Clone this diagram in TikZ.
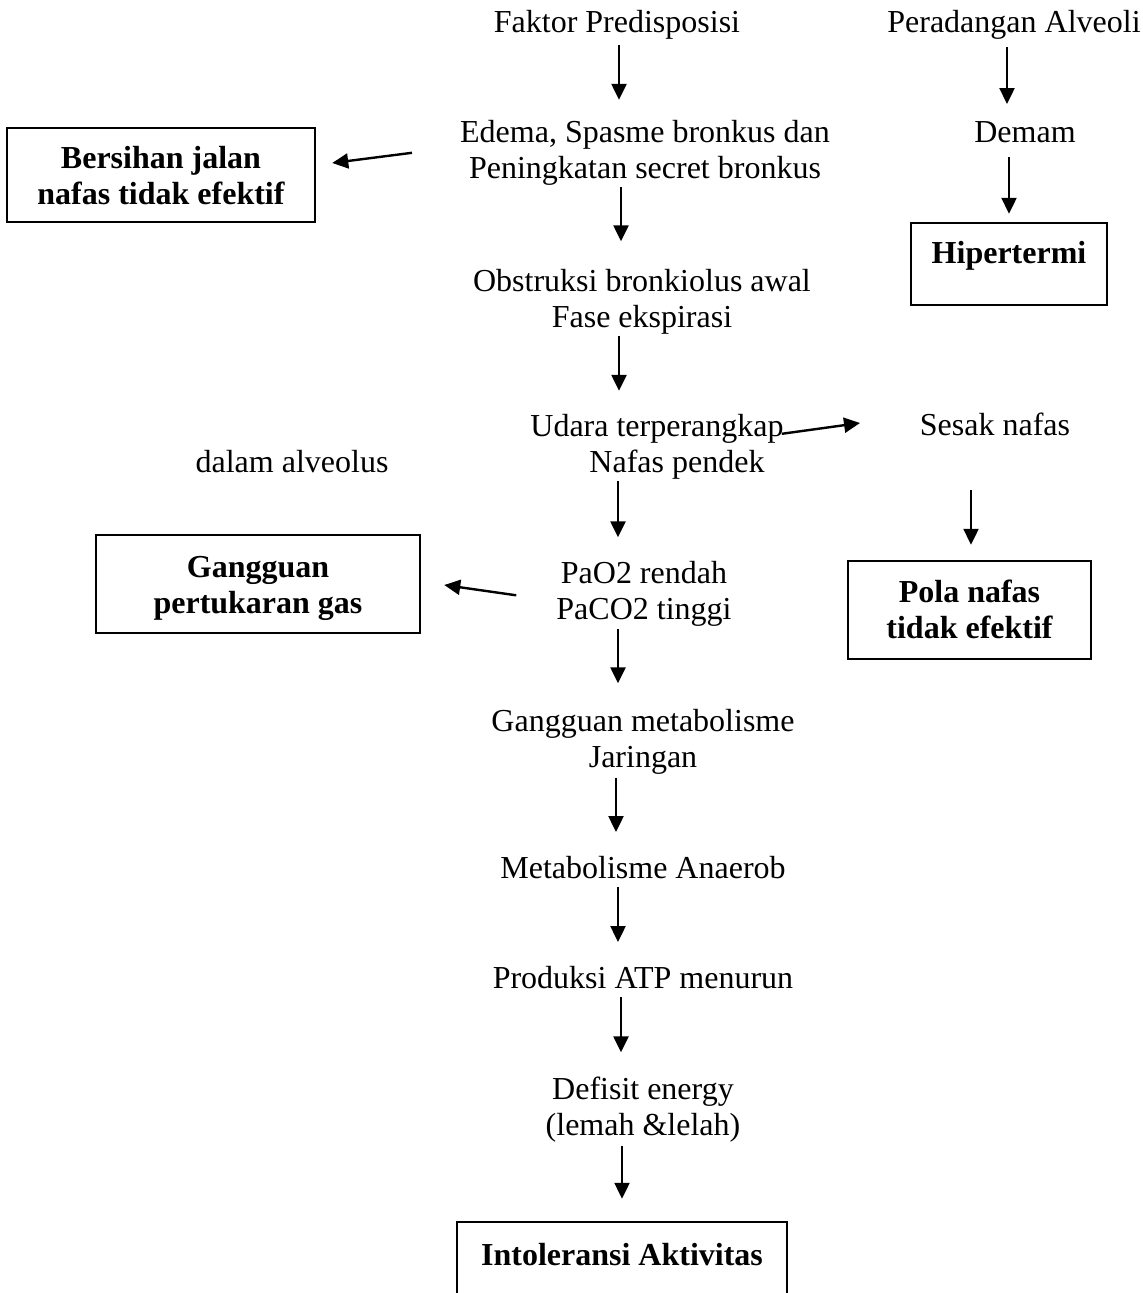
\documentclass[tikz,border=0pt]{standalone}
\usepackage{fontspec}
\setmainfont{Liberation Serif}
\usetikzlibrary{arrows.meta,calc}
\tikzset{
  txt/.style={font=\fontsize{32}{36}\selectfont, align=center, inner sep=0pt},
  bx/.style={font=\fontsize{32}{36}\selectfont\bfseries, align=center, inner sep=0pt, draw, line width=2.5pt},
  arr/.style={line width=2.4pt, -{Triangle[length=16pt,width=15pt]}}
}
\begin{document}
\begin{tikzpicture}[x=1pt,y=-1pt]
\useasboundingbox (0,0) rectangle (1143,1293);
\fill[white] (0,0) rectangle (1143,1293);
\clip (0,0) rectangle (1143,1293);
% texts
\node[txt, anchor=base] (fak) at (617,32) {Faktor Predisposisi};
\node[txt, anchor=base] (per) at (1014,32) {Peradangan Alveoli};
\node[txt, anchor=base] (dem) at (1025,142) {Demam};
\node[txt] (ede) at (645,152.8) {\strut Edema, Spasme bronkus dan\\\strut Peningkatan secret bronkus};
\node[txt] (obs) at (642,302.3) {\strut Obstruksi bronkiolus awal\\\strut Fase ekspirasi};
\node[txt] (uda) at (657,446.8) {\strut Udara terperangkap\\\hspace*{40pt}\strut Nafas pendek};
\node[txt, anchor=base] (ses) at (995,435) {Sesak nafas};
\node[txt, anchor=base] (dal) at (292,472) {dalam alveolus};
\node[txt] (pao) at (644,594.3) {\strut PaO2 rendah\\\strut PaCO2 tinggi};
\node[txt] (gmj) at (643,742.3) {\strut Gangguan metabolisme\\\strut Jaringan};
\node[txt, anchor=base] (man) at (643,878) {Metabolisme Anaerob};
\node[txt, anchor=base] (atp) at (643,988) {Produksi ATP menurun};
\node[txt] (def) at (643,1110.3) {\strut Defisit energy\\\strut (lemah \&lelah)};
% boxes
\node[bx, minimum width=308pt, minimum height=94pt] (ber) at (161,175) {\rule{0pt}{33.8pt}Bersihan jalan\\\strut nafas tidak efektif};
\node[bx, anchor=base, minimum width=196pt, text height=40pt, text depth=42pt] (hip) at (1009,263) {Hipertermi};
\node[bx, minimum width=324pt, minimum height=98pt] (gpg) at (258,584) {\rule{0pt}{32.8pt}Gangguan\\\strut pertukaran gas};
\node[bx, minimum width=243pt, minimum height=98pt] (pol) at (969.5,610) {\rule{0pt}{30.8pt}Pola nafas\\\strut tidak efektif};
\node[bx, anchor=base, minimum width=330pt, text height=43pt, text depth=60pt] (int) at (622,1265) {Intoleransi Aktivitas};
% arrows
\draw[arr] ($(fak.base)+(2,13)$) -- ($(ede.north)+(-26,-16.8)$);
\draw[arr] ($(per.base)+(-7,15)$) -- ($(dem.base)+(-18,-38)$);
\draw[arr] ($(dem.base)+(-16,15)$) -- ($(hip.north)+(0,-8)$);
\draw[arr] ($(ede.west)+(-48,0)$) -- ($(ber.east)+(16,-12)$);
\draw[arr] ($(ede.south)+(-24,-2)$) -- ($(obs.north)+(-21,-24.8)$);
\draw[arr] ($(obs.south)+(-23,-2.8)$) -- ($(uda.north)+(-38,-19.8)$);
\draw[arr] ($(uda.north east)+(-2,23.2)$) -- ($(ses.base)+(-135,-12)$);
\draw[arr] ($(ses.base)+(-24,55)$) -- ($(pol.north)+(1.5,-15)$);
\draw[arr] ($(uda.south)+(-39,-1.8)$) -- ($(pao.north)+(-26,-20.8)$);
\draw[arr] ($(pao.west)+(-40,1)$) -- ($(gpg.east)+(23,1)$);
\draw[arr] ($(pao.south)+(-26,-2)$) -- ($(gmj.north)+(-25,-22.8)$);
\draw[arr] ($(gmj.south)+(-27,-1)$) -- ($(man.base)+(-27,-46)$);
\draw[arr] ($(man.base)+(-25,9)$) -- ($(atp.base)+(-25,-46)$);
\draw[arr] ($(atp.base)+(-22,9)$) -- ($(def.north)+(-22,-21.8)$);
\draw[arr] ($(def.south)+(-21,-1)$) -- ($(int.north)+(0,-22)$);
\end{tikzpicture}
\end{document}
